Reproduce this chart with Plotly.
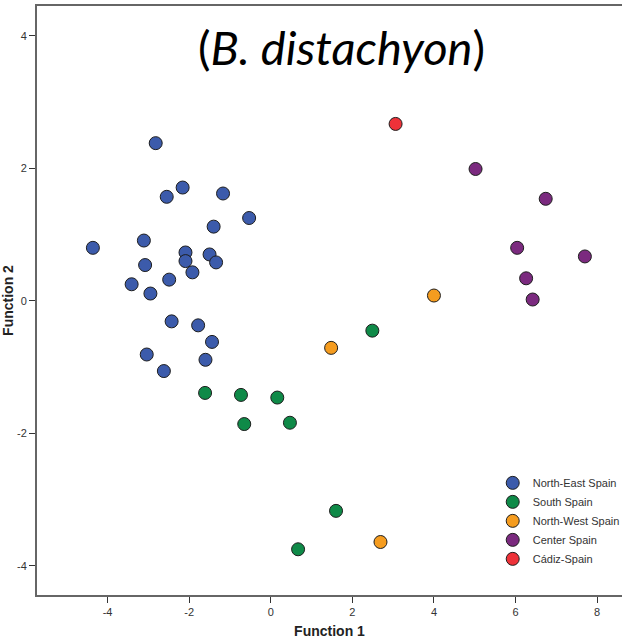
import plotly.graph_objects as go

groups = ["North-East Spain", "South Spain", "North-West Spain", "Center Spain", "Cádiz-Spain"]
colors = ["#3c5bab", "#0f8a48", "#f59c1f", "#7b2a7f", "#ee3239"]

ne_x = [-2.82, -2.16, -2.55, -1.17, -0.53, -1.40, -3.11, -4.36, -2.09, -2.09, -1.50, -1.34,
        -3.08, -1.92, -2.49, -3.41, -2.95, -2.43, -1.78, -1.44, -3.04, -1.60, -2.62]
ne_y = [2.38, 1.71, 1.57, 1.62, 1.25, 1.12, 0.91, 0.80, 0.73, 0.60, 0.70, 0.58,
        0.54, 0.43, 0.32, 0.25, 0.11, -0.31, -0.37, -0.62, -0.81, -0.89, -1.06]

s_x = [-1.61, -0.73, 0.16, -0.65, 0.47, 2.49, 1.60, 0.67]
s_y = [-1.39, -1.42, -1.46, -1.86, -1.84, -0.45, -3.17, -3.75]

nw_x = [1.48, 4.00, 2.69]
nw_y = [-0.71, 0.08, -3.64]

c_x = [5.02, 6.74, 6.04, 7.70, 6.26, 6.42]
c_y = [1.99, 1.54, 0.80, 0.67, 0.34, 0.02]

cad_x = [3.06]
cad_y = [2.67]

xs = [ne_x, s_x, nw_x, c_x, cad_x]
ys = [ne_y, s_y, nw_y, c_y, cad_y]

x_ticks = [-4, -2, 0, 2, 4, 6, 8]
y_ticks = [-4, -2, 0, 2, 4]

fig = go.Figure()
for name, col, x, y in zip(groups, colors, xs, ys):
    fig.add_trace(go.Scatter(
        x=x, y=y, mode="markers", name=name,
        marker=dict(size=13, color=col, line=dict(color="#1e1e1e", width=1)),
    ))

axis_font = dict(family="Liberation Sans, Arial, sans-serif", size=11, color="#333333")

fig.update_layout(
    width=622, height=643,
    margin=dict(l=37, r=0, t=6, b=48, autoexpand=False),
    paper_bgcolor="white", plot_bgcolor="white",
    showlegend=True,
    legend=dict(
        x=0.779, y=0.215, xanchor="left", yanchor="top",
        font=dict(family="Liberation Sans, Arial, sans-serif", size=11, color="#333333"),
        bgcolor="rgba(0,0,0,0)", tracegroupgap=0,
    ),
    xaxis=dict(
        range=[-5.73, 8.61], tickvals=x_ticks, ticktext=[str(v) for v in x_ticks],
        showgrid=False, zeroline=False, showline=True, linecolor="#666666", linewidth=2,
        mirror=True, ticks="outside", ticklen=6, tickcolor="#333333", tickwidth=1,
        tickfont=axis_font, automargin=False,
        title=dict(text="<b>Function 1</b>", font=dict(family="Liberation Sans, Arial, sans-serif", size=14, color="#222222"), standoff=9),
    ),
    yaxis=dict(
        range=[-4.44, 4.45], tickvals=y_ticks, ticktext=[str(v) for v in y_ticks],
        showgrid=False, zeroline=False, showline=True, linecolor="#666666", linewidth=2,
        ticks="outside", ticklen=6, tickcolor="#333333", tickwidth=1,
        tickfont=axis_font, automargin=False,
        title=dict(text="<b>Function 2</b>", font=dict(family="Liberation Sans, Arial, sans-serif", size=14, color="#222222"), standoff=4),
    ),
    annotations=[dict(
        text="(<i>B. distachyon</i>)", x=0.52, y=0.931, xref="paper", yref="paper",
        xanchor="center", yanchor="middle", showarrow=False,
        font=dict(family="Lato, sans-serif", size=47, color="black"),
    )],
)

fig.write_html("out.html")
